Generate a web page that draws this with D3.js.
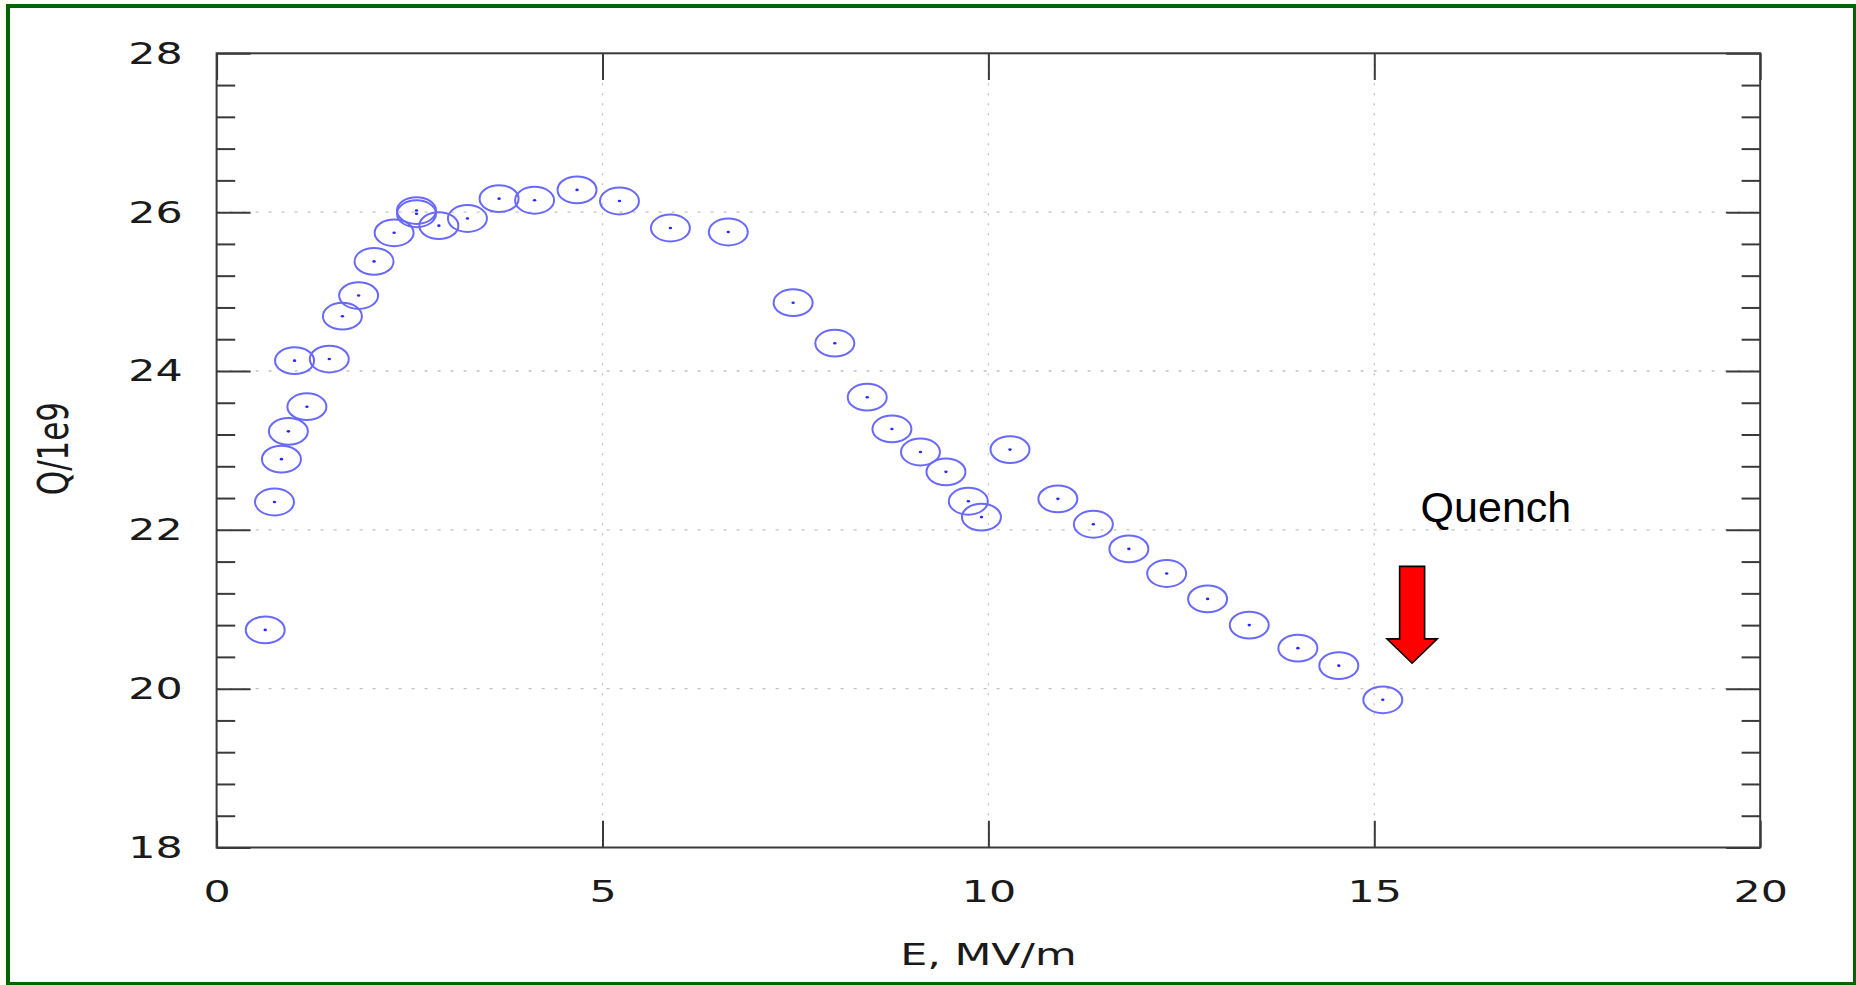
<!DOCTYPE html>
<html>
<head>
<meta charset="utf-8">
<script src="https://cdn.jsdelivr.net/npm/d3@7"></script>
<style>
  html, body { margin: 0; padding: 0; background: #fffff4; }
  svg { display: block; }
</style>
</head>
<body>
<svg id="chart-root" width="1856" height="985"></svg>
<script>

// data: field E (MV/m) and Q/1e9
const fieldE = [0.63, 0.75, 0.84, 0.93, 1.01, 1.17, 1.46, 1.63, 1.84, 2.04,
    2.30, 2.59, 2.59, 2.88, 3.25, 3.66, 4.12, 4.67, 5.22, 5.88,
    6.63, 7.47, 8.01, 8.43, 8.75, 9.12, 9.45, 9.74, 9.91, 10.28,
    10.90, 11.36, 11.82, 12.31, 12.84, 13.38, 14.01, 14.54, 15.11];
const qValues = [20.74, 22.35, 22.89, 23.24, 24.13, 23.55, 24.15, 24.69, 24.95, 25.38,
    25.74, 26.02, 25.98, 25.83, 25.92, 26.17, 26.15, 26.28, 26.14, 25.80,
    25.75, 24.86, 24.35, 23.67, 23.27, 22.98, 22.73, 22.36, 22.16, 23.01,
    22.39, 22.07, 21.76, 21.45, 21.13, 20.80, 20.51, 20.29, 19.86];

const xTicks = [0, 5, 10, 15, 20];
const yTicks = [18, 20, 22, 24, 26, 28];
const yMinorTicks = [18.4, 18.8, 19.2, 19.6, 20.4, 20.8, 21.2, 21.6, 22.4, 22.8, 23.2, 23.6,
    24.4, 24.8, 25.2, 25.6, 26.4, 26.8, 27.2, 27.6];

const xLabel = 'E, MV/m';
const yLabel = 'Q/1e9';
const noteText = 'Quench';
const noteE = 15.60, noteQ = 22.10;      // text anchor
const arrowE = 15.49, arrowTopQ = 21.54, arrowTipQ = 20.32;

const svg = d3.select('#chart-root');

const margin = { top: 53.3, left: 216.6 };
const width = 1543.6;
const height = 794.2;
const stretch = 1.38; // the original picture was widened, text looks wide

const fontTicks = '"DejaVu Sans", Verdana, sans-serif';

// green slide frame
svg.append('rect')
    .attr('x', 8).attr('y', 6)
    .attr('width', 1847).attr('height', 978)
    .attr('fill', 'white')
    .attr('stroke', '#006400')
    .attr('stroke-width', 4);

const g = svg.append('g').attr('transform', `translate(${margin.left},${margin.top})`);

//Scales
const x = d3.scaleLinear().domain([0, 20]).range([0, width]);
const y = d3.scaleLinear().domain([18, 28]).range([height, 0]);

// grid
g.append('g').selectAll('line')
    .data(yTicks.slice(1, -1))
    .join('line')
    .attr('x1', 0).attr('x2', width)
    .attr('y1', d => y(d)).attr('y2', d => y(d))
    .attr('stroke', '#c2c2c2')
    .attr('stroke-width', 1.3)
    .attr('stroke-dasharray', '3,10');

g.append('g').selectAll('line')
    .data(xTicks.slice(1, -1))
    .join('line')
    .attr('x1', d => x(d)).attr('x2', d => x(d))
    .attr('y1', 0).attr('y2', height)
    .attr('stroke', '#c2c2c2')
    .attr('stroke-width', 1.3)
    .attr('stroke-dasharray', '2,8');

// axes, ticks pointing inward on all four sides
const styleAxis = sel => {
    sel.select('.domain').remove();
    sel.selectAll('.tick line').attr('stroke', '#3a3a3a').attr('stroke-width', 2);
    sel.selectAll('.tick text')
        .attr('fill', '#1a1a1a')
        .style('font-family', fontTicks)
        .style('font-size', '31px');
};

const leftAxis = g.append('g')
    .call(d3.axisLeft(y).tickValues(yTicks).tickSize(-34).tickPadding(0).tickFormat(d3.format('d')))
    .call(styleAxis);
leftAxis.selectAll('.tick text')
    .attr('x', -34 / stretch)
    .attr('transform', `scale(${stretch},1)`);

g.append('g')
    .call(d3.axisLeft(y).tickValues(yMinorTicks).tickSize(-18.6).tickFormat(''))
    .call(styleAxis);

g.append('g').attr('transform', `translate(${width},0)`)
    .call(d3.axisRight(y).tickValues(yTicks).tickSize(-34).tickFormat(''))
    .call(styleAxis);

g.append('g').attr('transform', `translate(${width},0)`)
    .call(d3.axisRight(y).tickValues(yMinorTicks).tickSize(-18.6).tickFormat(''))
    .call(styleAxis);

const bottomAxis = g.append('g').attr('transform', `translate(0,${height})`)
    .call(d3.axisBottom(x).tickValues(xTicks).tickSize(-26.7).tickPadding(32).tickFormat(d3.format('d')))
    .call(styleAxis);
bottomAxis.selectAll('.tick text')
    .attr('transform', `scale(${stretch},1)`);

g.append('g')
    .call(d3.axisTop(x).tickValues(xTicks).tickSize(-26.7).tickFormat(''))
    .call(styleAxis);

// frame
g.append('rect')
    .attr('width', width).attr('height', height)
    .attr('fill', 'none')
    .attr('stroke', '#3a3a3a')
    .attr('stroke-width', 2);

// axis titles
g.append('text')
    .attr('transform', `translate(${width / 2},${height + 117.5}) scale(${stretch},1)`)
    .attr('text-anchor', 'middle')
    .attr('fill', '#1a1a1a')
    .style('font-family', fontTicks)
    .style('font-size', '31px')
    .text(xLabel);

g.append('text')
    .attr('transform', `translate(${68 - margin.left},${height / 2 - 1.8}) scale(${stretch},1) rotate(-90)`)
    .attr('text-anchor', 'middle')
    .attr('fill', '#1a1a1a')
    .style('font-family', fontTicks)
    .style('font-size', '31px')
    .text(yLabel);

// points: gnuplot open circles with a dot in the middle
const points = fieldE.map((e, i) => ({ e: e, q: qValues[i] }));

const marks = g.append('g').selectAll('g')
    .data(points)
    .join('g')
    .attr('transform', d => `translate(${x(d.e)},${y(d.q)})`);

marks.append('ellipse')
    .attr('rx', 19.5)
    .attr('ry', 13.4)
    .attr('fill', 'none')
    .attr('stroke', 'rgb(105,105,255)')
    .attr('stroke-width', 2);

marks.append('ellipse')
    .attr('rx', 1.7)
    .attr('ry', 1.3)
    .attr('fill', 'rgb(40,40,255)');

// quench annotation
const ax = x(arrowE);
const aTop = y(arrowTopQ);
const aTip = y(arrowTipQ);
const shaftHalf = 12.5, headHalf = 25.2, headLen = 24.4;
const arrowPts = [
    [ax - shaftHalf, aTop], [ax + shaftHalf, aTop],
    [ax + shaftHalf, aTip - headLen], [ax + headHalf, aTip - headLen],
    [ax, aTip],
    [ax - headHalf, aTip - headLen], [ax - shaftHalf, aTip - headLen]
];
g.append('path')
    .attr('d', d3.line()(arrowPts) + 'Z')
    .attr('fill', '#ff0000')
    .attr('stroke', 'black')
    .attr('stroke-width', 1.6)
    .attr('stroke-linejoin', 'miter');

g.append('text')
    .attr('x', x(noteE))
    .attr('y', y(noteQ))
    .attr('fill', 'black')
    .style('font-family', '"Liberation Sans", Arial, sans-serif')
    .style('font-size', '43px')
    .text(noteText);

</script>
</body>
</html>
